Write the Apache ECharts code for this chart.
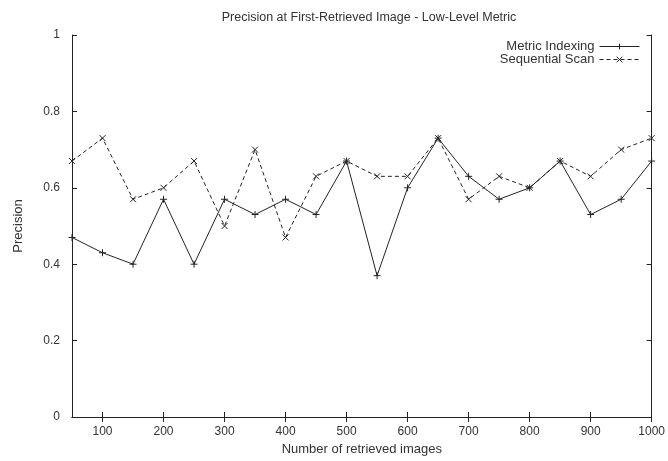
<!DOCTYPE html>
<html>
<head>
<meta charset="utf-8">
<script src="https://cdn.jsdelivr.net/npm/echarts@6/dist/echarts.min.js"></script>
<style>
  html, body { margin: 0; padding: 0; background: #fff; }
  #chart { width: 668px; height: 461px; }
</style>
</head>
<body>
<div id="chart"></div>
<script>
// number of retrieved images (x)
const imageCounts = [50, 100, 150, 200, 250, 300, 350, 400, 450, 500,
                     550, 600, 650, 700, 750, 800, 850, 900, 950, 1000];
const metricIndexing = [0.47, 0.43, 0.40, 0.57, 0.40, 0.57, 0.53, 0.57, 0.53, 0.67,
                        0.37, 0.60, 0.73, 0.63, 0.57, 0.60, 0.67, 0.53, 0.57, 0.67];
const sequentialScan = [0.67, 0.73, 0.57, 0.60, 0.67, 0.50, 0.70, 0.47, 0.63, 0.67,
                        0.63, 0.63, 0.73, 0.57, 0.63, 0.60, 0.67, 0.63, 0.70, 0.73];
const xTicks = [100, 200, 300, 400, 500, 600, 700, 800, 900, 1000];

const ink = '#222';
const labelColor = '#333';
const font = 'Liberation Sans, Arial, sans-serif';

const plusPath = 'path://M5 0L5 10M0 5L10 5';
const crossPath = 'path://M0 0L10 10M10 0L0 10';

function pairs(ys) {
    return imageCounts.map((x, i) => [x, ys[i]]);
}

function initChart() {
    const chart = echarts.init(document.getElementById('chart'));

    const tickStyle = { show: true, inside: true, length: 5, lineStyle: { color: ink, width: 1 } };

    const option = {
        animation: false,
        title: {
            text: 'Precision at First-Retrieved Image - Low-Level Metric',
            left: 364, top: 6, textAlign: 'center',
            textStyle: { fontFamily: font, fontSize: 12.5, fontWeight: 'normal', color: labelColor }
        },
        legend: {
            orient: 'vertical',
            right: 23, top: 35,
            align: 'right',
            itemWidth: 40, itemHeight: 7, itemGap: 0,
            lineStyle: { width: 1 },
            itemStyle: { borderWidth: 1 },
            textStyle: { fontFamily: font, fontSize: 13, lineHeight: 13, color: labelColor },
            data: ['Metric Indexing', 'Sequential Scan']
        },
        grid: { left: 72, right: 11, top: 35, bottom: 42 },
        xAxis: [{
            type: 'value', min: 50, max: 1000,
            name: 'Number of retrieved images',
            nameLocation: 'middle', nameGap: 26,
            nameTextStyle: { fontFamily: font, fontSize: 13, color: labelColor },
            axisLine: { show: true, onZero: false, lineStyle: { color: ink } },
            axisTick: Object.assign({ customValues: xTicks }, tickStyle),
            axisLabel: {
                customValues: xTicks, fontFamily: font, fontSize: 12, color: labelColor, margin: 9,
                formatter: v => String(v)
            },
            splitLine: { show: false }
        }, {
            type: 'value', min: 50, max: 1000, position: 'top',
            axisLine: { show: true, lineStyle: { color: ink } },
            axisTick: Object.assign({ customValues: xTicks }, tickStyle),
            axisLabel: { show: false },
            splitLine: { show: false }
        }],
        yAxis: [{
            type: 'value', min: 0, max: 1, interval: 0.2,
            name: 'Precision',
            nameLocation: 'middle', nameGap: 47,
            nameTextStyle: { fontFamily: font, fontSize: 13, color: labelColor },
            axisLine: { show: true, lineStyle: { color: ink } },
            axisTick: tickStyle,
            axisLabel: { fontFamily: font, fontSize: 12, color: labelColor, margin: 12 },
            splitLine: { show: false }
        }, {
            type: 'value', min: 0, max: 1, interval: 0.2, position: 'right',
            axisLine: { show: true, lineStyle: { color: ink } },
            axisTick: tickStyle,
            axisLabel: { show: false },
            splitLine: { show: false }
        }],
        series: [{
            name: 'Metric Indexing',
            type: 'line',
            data: pairs(metricIndexing),
            symbol: plusPath, symbolSize: 7,
            itemStyle: { color: ink, borderColor: ink, borderWidth: 1 },
            lineStyle: { color: ink, width: 1 }
        }, {
            name: 'Sequential Scan',
            type: 'line',
            data: pairs(sequentialScan),
            symbol: crossPath, symbolSize: 6,
            itemStyle: { color: ink, borderColor: ink, borderWidth: 1 },
            lineStyle: { color: ink, width: 1, type: [4, 3] }
        }]
    };

    chart.setOption(option);
}

document.addEventListener('DOMContentLoaded', initChart);
</script>
</body>
</html>
